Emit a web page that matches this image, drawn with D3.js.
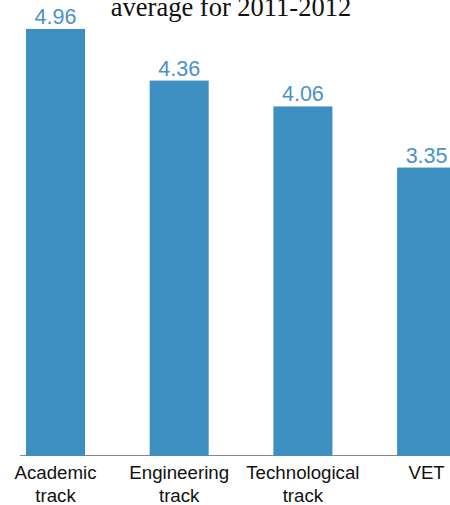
<!DOCTYPE html>
<html>
<head>
<meta charset="utf-8">
<script src="https://cdn.jsdelivr.net/npm/d3@7"></script>
<style>
  body { margin: 0; background: #fff; }
  svg { display: block; }
</style>
</head>
<body>
<svg id="chart"></svg>
<script>
const width = 450;
const height = 505;

const tracks = ['Academic track', 'Engineering track', 'Technological track', 'VET'];
const averages = [4.96, 4.36, 4.06, 3.35];
const titleText = 'average for 2011-2012';

const barColor = '#3d8ec1';
const labelColor = '#4a92c7';

const svg = d3.select('#chart')
    .attr('width', width)
    .attr('height', height);

const baseline = 456;

const xScale = d3.scaleBand()
    .domain(tracks)
    .range([-6.35, 488.45])
    .paddingInner(0.523)
    .paddingOuter(0.2615);

const yScale = d3.scaleLinear()
    .domain([0, 5])
    .range([baseline, baseline - 5 * 86.1]);

// title (second line of the original heading)
svg.append('text')
    .attr('x', 231)
    .attr('y', 16)
    .attr('text-anchor', 'middle')
    .style('font-family', '"Liberation Serif", "Times New Roman", serif')
    .style('font-size', '26.5px')
    .style('fill', '#111')
    .text(titleText);

// axis line
svg.append('line')
    .attr('x1', 20)
    .attr('x2', width)
    .attr('y1', baseline - 0.5)
    .attr('y2', baseline - 0.5)
    .attr('stroke', '#888')
    .attr('stroke-width', 1);

svg.selectAll('.bar')
    .data(tracks)
    .enter()
    .append('rect')
    .attr('class', 'bar')
    .attr('x', d => xScale(d))
    .attr('y', (d, i) => yScale(averages[i]))
    .attr('width', xScale.bandwidth())
    .attr('height', (d, i) => yScale(0) - yScale(averages[i]))
    .attr('fill', barColor);

svg.selectAll('.value')
    .data(tracks)
    .enter()
    .append('text')
    .attr('class', 'value')
    .attr('x', d => xScale(d) + xScale.bandwidth() / 2)
    .attr('y', (d, i) => yScale(averages[i]) - 5)
    .attr('text-anchor', 'middle')
    .style('font-family', '"Liberation Sans", Arial, sans-serif')
    .style('font-size', '21.5px')
    .style('fill', labelColor)
    .text((d, i) => averages[i].toFixed(2));

// category labels, split onto two lines
const xAxis = svg.append('g')
    .attr('transform', `translate(0, ${baseline})`)
    .call(d3.axisBottom(xScale).tickSize(0).tickPadding(0));

xAxis.select('.domain').remove();

xAxis.selectAll('text')
    .style('font-family', '"Liberation Sans", Arial, sans-serif')
    .style('font-size', '18.7px')
    .style('fill', '#111')
    .attr('y', 0)
    .attr('dy', null)
    .each(function(d) {
        const words = d.split(' ');
        const t = d3.select(this).text(null);
        words.forEach((w, i) => {
            t.append('tspan')
                .attr('x', 0)
                .attr('y', 23 + i * 23)
                .text(w);
        });
    });
</script>
</body>
</html>
